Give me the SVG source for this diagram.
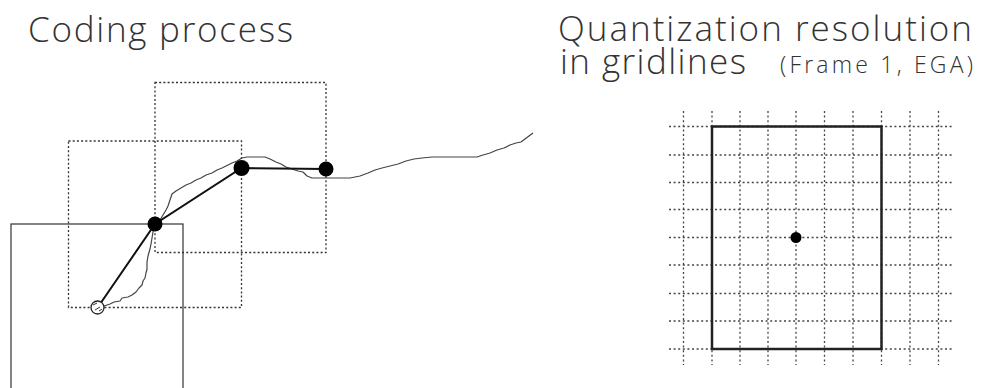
<svg xmlns="http://www.w3.org/2000/svg" width="982" height="388" viewBox="0 0 982 388">
<style>
.title{font-family:"Open Sans","Liberation Sans",Arial,sans-serif;font-weight:300;fill:#333;}
.dot{stroke:#333;stroke-width:1.3;stroke-dasharray:2 2.2;fill:none;}
.grid{stroke:#444;stroke-width:1.3;stroke-dasharray:2 2.6;fill:none;}
.solid{stroke:#333;stroke-width:1.2;fill:none;}
.node{fill:#000;}
.link{stroke:#111;stroke-width:2;fill:none;}
.traj{stroke:#444;stroke-width:1.2;fill:none;stroke-linejoin:round;}
</style>
<rect width="982" height="388" fill="#fff"/>
<text class="title" x="28" y="42" font-size="35" textLength="265" lengthAdjust="spacing">Coding process</text>
<text class="title" x="558" y="41" font-size="35" textLength="414" lengthAdjust="spacing">Quantization resolution</text>
<text class="title" x="560" y="74" font-size="35" textLength="186" lengthAdjust="spacing">in gridlines</text>
<text class="title" x="780" y="73" font-size="23" textLength="193" lengthAdjust="spacing">(Frame 1, EGA)</text>

<g id="frame-solid"><rect class="solid" x="11" y="224" width="172" height="180"/></g>
<g id="frame-1"><rect class="dot" x="68.5" y="141" width="173" height="166.5"/></g>
<g id="frame-2"><rect class="dot" x="155" y="82.5" width="171" height="170"/></g>

<g id="trajectory">
<path class="traj" d="M104 306 L110 304 L114 302 L120 301 L122 298 L128 297 L132 295 L136 292 L139 288 L142 285 L143 281 L145 278 L146 273 L147 269 L147 262 L148 256 L150 249 L151 244 L152 238 L153 232 L155 226 L160 220 L163 215 L166 210 L168 206 L170 200 L172 194 L176 191 L181 188 L186 185 L191 183 L196 180 L201 178 L206 175 L212 173 L217 170 L222 168 L228 165 L232 163 L237 161 L242 158 L247 157 L255 157 L265 157 L270 159 L276 162 L281 164 L286 167 L292 169 L298 171 L303 172 L307 176 L312 178 L318 178 L330 178 L350 178 L360 176 L368 173 L375 170 L382 168 L390 166 L398 164 L406 161 L414 159 L422 158 L432 157 L445 157 L460 157 L477 157 L483 155 L490 153 L497 150 L504 148 L510 145 L516 143 L521 142 L525 139 L529 136 L533 133"/>
</g>

<g id="connectors">
<polyline class="link" points="98,307 155,224 241.5,168 326,169"/>
</g>

<g id="start"><circle cx="97.5" cy="307.5" r="6.5" fill="#fff" stroke="#222" stroke-width="1.3"/><path d="M93 305 L97 303 M95 310 L100 307 M99 311 L102 309" stroke="#333" stroke-width="1"/></g>
<g id="point-1"><circle class="node" cx="155" cy="224" r="7.5"/></g>
<g id="point-2"><circle class="node" cx="241.5" cy="168" r="8"/></g>
<g id="point-3"><circle class="node" cx="326" cy="169" r="7.5"/></g>

<g id="grid">
<path class="grid" d="M683.5 111V365 M712 111V365 M740 111V365 M768 111V365 M796 111V365 M824.5 111V365 M853 111V365 M881.5 111V365 M910 111V365 M938.5 111V365"/>
<path class="grid" d="M669 126.5H952 M669 155H952 M669 182.5H952 M669 209.5H952 M669 237.5H952 M669 265H952 M669 293.5H952 M669 321H952 M669 349H952"/>
</g>
<g id="frame-q"><rect x="712" y="126.5" width="169.5" height="222.5" fill="none" stroke="#222" stroke-width="2.5"/></g>
<g id="center"><circle class="node" cx="796" cy="237.5" r="5.5"/></g>
</svg>
